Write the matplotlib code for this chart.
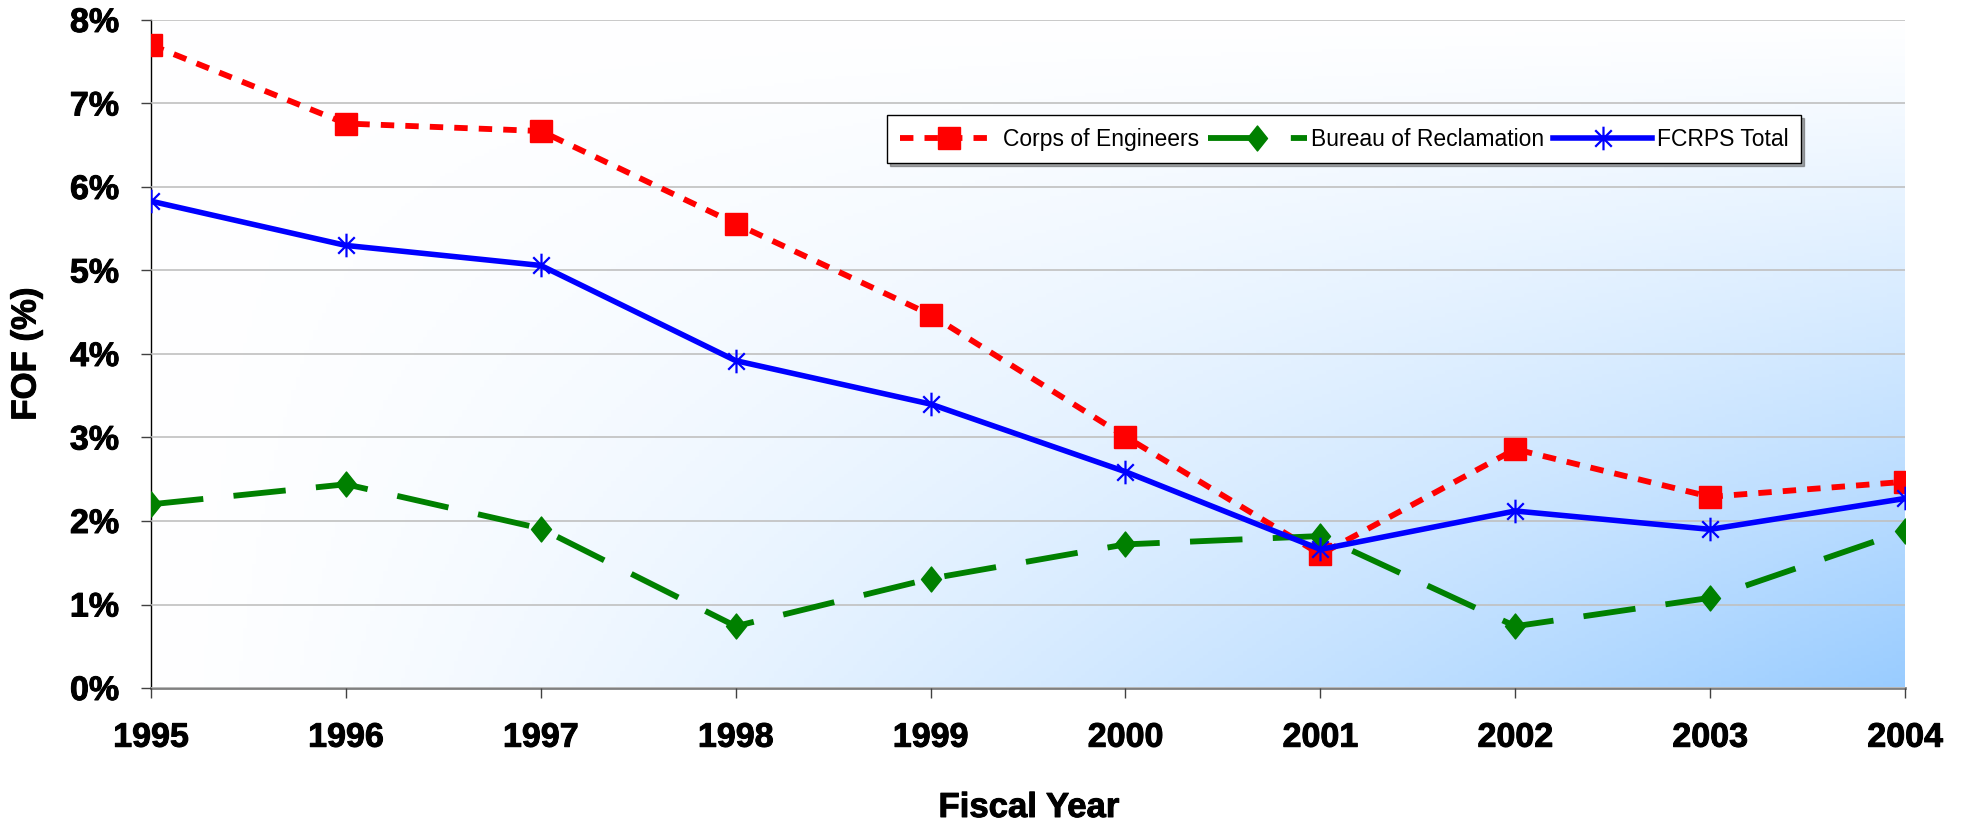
""" FOF (%) by fiscal year -- Corps / Bureau / FCRPS total
"""
import numpy as np
import matplotlib
matplotlib.use('Agg')
import matplotlib.pyplot as plt
import matplotlib.patheffects as pe
from matplotlib.path import Path
from matplotlib.ticker import FuncFormatter

plt.rcParams['font.family'] = ['Liberation Sans', 'DejaVu Sans']

years = [1995, 1996, 1997, 1998, 1999, 2000, 2001, 2002, 2003, 2004]
corps = [7.70, 6.76, 6.67, 5.56, 4.47, 3.01, 1.60, 2.86, 2.29, 2.47]
bureau = [2.20, 2.44, 1.91, 0.74, 1.31, 1.72, 1.82, 0.74, 1.08, 1.88]
fcrps = [5.83, 5.30, 5.06, 3.92, 3.40, 2.59, 1.66, 2.12, 1.90, 2.27]
yticks = [0, 1, 2, 3, 4, 5, 6, 7, 8]

# Excel の星マーカー (X + 縦線)
star = Path([(0, -1), (0, 1), (-0.7, -0.7), (0.7, 0.7), (-0.7, 0.7), (0.7, -0.7)],
            [Path.MOVETO, Path.LINETO, Path.MOVETO, Path.LINETO, Path.MOVETO, Path.LINETO])
# 縦長のひし形
diamond = Path([(0, 1), (0.8, 0), (0, -1), (-0.8, 0), (0, 1)],
               [Path.MOVETO, Path.LINETO, Path.LINETO, Path.LINETO, Path.CLOSEPOLY])

bold_fx = [pe.withStroke(linewidth=0.7, foreground='black')]

fig = plt.figure(figsize=(19.67, 8.22), dpi=100)
fig.subplots_adjust(left=0.0768, right=0.9685, bottom=0.163, top=0.9757)
ax = fig.add_subplot(1, 1, 1)

# 背景グラデーション (左上 白 -> 右下 水色)
gx, gy = np.meshgrid(np.linspace(0, 1, 400), np.linspace(1, 0, 200))
f = gx ** 1.3 * (1 - gy) ** 1.1
c0 = np.array([1.0, 1.0, 1.0])
c1 = np.array([153, 204, 255]) / 255
img = c0 + (c1 - c0) * f[..., None]
ax.imshow(img, extent=[0, 1, 0, 1], transform=ax.transAxes, aspect='auto', zorder=0)

ax.plot(years, corps, color='red', lw=4.2, dashes=(2.3, 1.9), marker='s', ms=16,
        label='Corps of Engineers', zorder=3)
ax.plot(years, bureau, color='green', lw=4.2, dashes=(9.0, 5.2), marker=diamond, ms=18,
        label='Bureau of Reclamation', zorder=3)
ax.plot(years, fcrps, color='blue', lw=4, marker=star, ms=17, mew=1.6,
        mec='blue', label='FCRPS Total', zorder=4)

ax.set_xlim(1995, 2004)
ax.set_ylim(0, 8)
ax.set_xticks(years)
ax.set_yticks(yticks)
ax.yaxis.set_major_formatter(FuncFormatter(lambda v, p: '%d%%' % v))
ax.grid(True, axis='y', color='#c0c0c0', lw=1.2, zorder=1)
ax.set_axisbelow(False)

ax.tick_params(axis='both', labelsize=24.5, length=7, width=1, color='#404040',
               direction='out')
ax.tick_params(axis='x', pad=18)
ax.tick_params(axis='y', pad=16)
for lab in ax.get_xticklabels() + ax.get_yticklabels():
    lab.set_fontweight('bold')
    lab.set_path_effects(bold_fx)

for s in ['top', 'right']:
    ax.spines[s].set_visible(False)
ax.spines['left'].set_color('black')
ax.spines['left'].set_linewidth(1)
ax.spines['bottom'].set_color('#808080')
ax.spines['bottom'].set_linewidth(2)

fig.text(1029 / 1967, 1 - 817 / 822, 'Fiscal Year', fontsize=25, fontweight='bold',
         ha='center', va='baseline', path_effects=bold_fx)
fig.text(26 / 1967, 1 - 354 / 822, 'FOF (%)', fontsize=25, fontweight='bold',
         ha='center', va='center', rotation=90, path_effects=bold_fx)

leg = ax.legend(loc='upper left', bbox_to_anchor=(0.4196, 0.8578), ncol=3,
                fontsize=16.5, handlelength=4.3, handletextpad=0.2, columnspacing=0.4,
                borderpad=0.55, borderaxespad=0, fancybox=False, shadow=True,
                framealpha=1, edgecolor='black')
leg.get_frame().set_linewidth(1)

fig.savefig('out.png', dpi=100)
